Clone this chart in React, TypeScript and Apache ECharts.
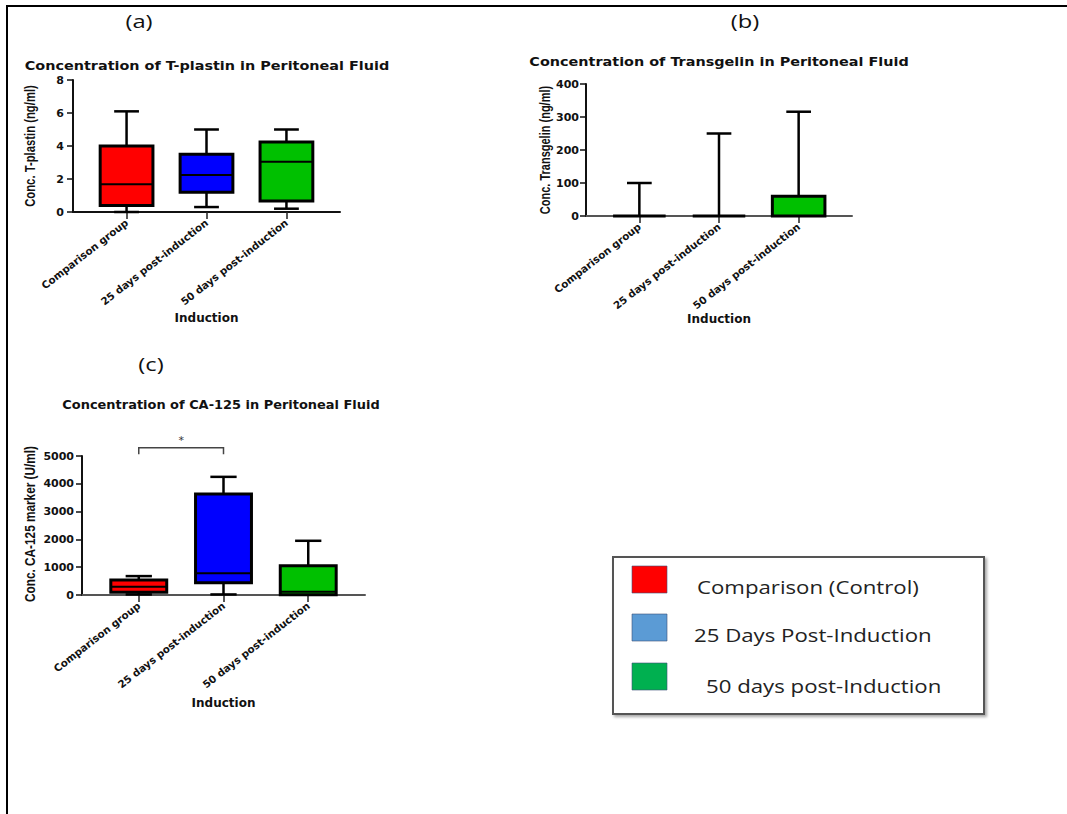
import React, { useEffect, useRef } from 'react';
import * as echarts from 'echarts';

// ---------- data ----------
const categories = ['Comparison group', '25 days post-induction', '50 days post-induction'];
const boxColors = ['#FF0000', '#0000FF', '#00C000'];

// [min, Q1, median, Q3, max]
const tplastinStats = [
  [0, 0.4, 1.68, 4.0, 6.1],
  [0.3, 1.2, 2.25, 3.5, 5.0],
  [0.2, 0.67, 3.05, 4.25, 5.0],
];
const transgelinStats = [
  [0, 0, 0, 0, 100],
  [0, 0, 0, 0, 250],
  [0, 0, 0, 60, 316],
];
const ca125Stats = [
  [20, 100, 300, 540, 680],
  [20, 440, 780, 3630, 4250],
  [0, 10, 120, 1050, 1950],
];

const panelLetters = ['(a)', '(b)', '(c)'];
const panelTitles = [
  'Concentration of T-plastin in Peritoneal Fluid',
  'Concentration of Transgelin in Peritoneal Fluid',
  'Concentration of CA-125 in Peritoneal Fluid',
];
const yNames = ['Conc. T-plastin (ng/ml)', 'Conc. Transgelin (ng/ml)', 'Conc. CA-125 marker (U/ml)'];
const xName = 'Induction';
const yMax = [8, 400, 5000];
const yStep = [2, 100, 1000];

// significance bracket in (c): between category 0 and 1
const sigPair = [0, 1];
const sigBracket = [5060, 5300]; // foot, top
const sigLabel = '*';

const legendLabels = ['Comparison (Control)', '25 Days Post-Induction', '50 days post-Induction'];
const legendColors = ['#FF0000', '#5B9BD5', '#00B050'];

// ---------- helpers ----------
const BOLD = "'DejaVu Sans', 'Liberation Sans', sans-serif";
const ARIAL = "'Liberation Sans', Arial, sans-serif";
const SANS = "'Open Sans', sans-serif";

function boxRender(params: any, api: any) {
  const idx = api.value(0);
  const v = [1, 2, 3, 4, 5].map((i) => api.value(i));
  const unit = api.size([1, 0])[0];
  const boxW = unit * 0.66;
  const capW = unit * 0.31;
  const pMin = api.coord([idx, v[0]]);
  const pQ1 = api.coord([idx, v[1]]);
  const pMed = api.coord([idx, v[2]]);
  const pQ3 = api.coord([idx, v[3]]);
  const pMax = api.coord([idx, v[4]]);
  const cx = pMed[0];
  const fill = boxColors[params.dataIndex];
  const wStyle = { stroke: '#000', lineWidth: 2.5 };
  const children: any[] = [];
  if (pMax[1] < pQ3[1] - 0.5) {
    children.push({ type: 'line', shape: { x1: cx, y1: pQ3[1], x2: cx, y2: pMax[1] }, style: wStyle });
    children.push({ type: 'line', shape: { x1: cx - capW / 2, y1: pMax[1], x2: cx + capW / 2, y2: pMax[1] }, style: wStyle });
  }
  if (pMin[1] > pQ1[1] + 0.5) {
    children.push({ type: 'line', shape: { x1: cx, y1: pQ1[1], x2: cx, y2: pMin[1] }, style: wStyle });
    children.push({ type: 'line', shape: { x1: cx - capW / 2, y1: pMin[1], x2: cx + capW / 2, y2: pMin[1] }, style: wStyle });
  }
  const h = pQ1[1] - pQ3[1];
  if (h > 1) {
    children.push({
      type: 'rect',
      shape: { x: cx - boxW / 2, y: pQ3[1], width: boxW, height: h },
      style: { fill, stroke: '#000', lineWidth: 3 },
    });
  }
  children.push({
    type: 'line',
    shape: { x1: cx - boxW / 2, y1: pMed[1], x2: cx + boxW / 2, y2: pMed[1] },
    style: { stroke: '#000', lineWidth: h > 1 ? 2 : 3 },
  });
  return { type: 'group', children };
}

function bracketRender(params: any, api: any) {
  const a0 = api.coord([api.value(0), api.value(2)]);
  const a1 = api.coord([api.value(0), api.value(3)]);
  const b1 = api.coord([api.value(1), api.value(3)]);
  const b0 = api.coord([api.value(1), api.value(2)]);
  return {
    type: 'group',
    children: [
      {
        type: 'polyline',
        shape: { points: [a0, a1, b1, b0] },
        style: { stroke: '#444', lineWidth: 1.5, fill: 'none' },
      },
      {
        type: 'text',
        x: (a1[0] + b1[0]) / 2,
        y: a1[1] - 2,
        style: { text: sigLabel, fill: '#333', fontSize: 11, fontFamily: BOLD, align: 'center', verticalAlign: 'bottom' },
      },
    ],
  };
}

const grids = [
  { left: 73, top: 80, width: 267, height: 132 },
  { left: 586, top: 84, width: 266, height: 132 },
  { left: 82, top: 456, width: 283, height: 139 },
];
const yLabelMargin = [9, 7, 8];
const xNameGap = [100, 93, 102];
const letterPos = [
  [139, 20],
  [745, 20],
  [151, 363],
];
const titlePos = [
  [207, 66],
  [719, 62],
  [221, 405],
];
const titleScale = [1.2, 1.2, 1.08];
const yNamePos = [
  [30, 146],
  [545, 150],
  [30, 524],
];
const yNameSize = [11.3, 11, 11.8];

function buildOption() {
  const xAxis = grids.map((_, i) => ({
    type: 'value',
    gridIndex: i,
    min: -0.67,
    max: 2.67,
    splitLine: { show: false },
    axisLine: { show: true, onZero: false, lineStyle: { color: i === 0 ? '#111' : '#555', width: 2 } },
    axisTick: { show: true, customValues: [0, 1, 2], length: 7, lineStyle: { color: '#222', width: 1.5 } },
    axisLabel: {
      customValues: [0, 1, 2],
      formatter: (v: number) => categories[Math.round(v)] ?? '',
      rotate: 38,
      margin: 9,
      color: '#111',
      fontFamily: BOLD,
      fontWeight: 'bold',
      fontSize: 10.3,
    },
    name: xName,
    nameLocation: 'middle',
    nameGap: xNameGap[i],
    nameTextStyle: { fontFamily: BOLD, fontWeight: 'bold', fontSize: 12, color: '#111' },
  }));
  const yAxis = grids.map((_, i) => ({
    type: 'value',
    gridIndex: i,
    min: 0,
    max: yMax[i],
    interval: yStep[i],
    splitLine: { show: false },
    axisLine: { show: true, onZero: false, lineStyle: { color: '#111', width: 2 } },
    axisTick: { show: true, length: 6, lineStyle: { color: '#111', width: 1.5 } },
    axisLabel: {
      margin: yLabelMargin[i],
      color: '#111',
      fontFamily: BOLD,
      fontWeight: 'bold',
      fontSize: 11,
      formatter: (v: number) => String(v),
    },
  }));
  const statSets = [tplastinStats, transgelinStats, ca125Stats];
  const series: any[] = statSets.map((stats, i) => ({
    type: 'custom',
    xAxisIndex: i,
    yAxisIndex: i,
    clip: false,
    renderItem: boxRender,
    encode: { x: 0, y: [1, 2, 3, 4, 5] },
    data: stats.map((s, k) => [k, ...s]),
    z: 3,
  }));
  series.push({
    type: 'custom',
    xAxisIndex: 2,
    yAxisIndex: 2,
    clip: false,
    renderItem: bracketRender,
    encode: { x: [0, 1], y: [2, 3] },
    data: [[sigPair[0], sigPair[1], sigBracket[0], sigBracket[1]]],
    silent: true,
  });

  const graphic: any[] = [
    // frame
    { type: 'line', shape: { x1: 7, y1: 6, x2: 7, y2: 814 }, style: { stroke: '#000', lineWidth: 2 } },
    { type: 'line', shape: { x1: 6, y1: 6, x2: 1067, y2: 6 }, style: { stroke: '#000', lineWidth: 2 } },
  ];
  panelLetters.forEach((t, i) => {
    graphic.push({
      type: 'text',
      x: letterPos[i][0],
      y: letterPos[i][1],
      scaleX: 1.25,
      style: { text: t, fill: '#111', fontSize: 19, fontFamily: SANS, align: 'center', verticalAlign: 'middle' },
    });
  });
  panelTitles.forEach((t, i) => {
    graphic.push({
      type: 'text',
      x: titlePos[i][0],
      y: titlePos[i][1],
      scaleX: titleScale[i],
      style: { text: t, fill: '#111', fontSize: 12, fontWeight: 'bold', fontFamily: BOLD, align: 'center', verticalAlign: 'middle' },
    });
  });
  yNames.forEach((t, i) => {
    graphic.push({
      type: 'text',
      x: yNamePos[i][0],
      y: yNamePos[i][1],
      rotation: Math.PI / 2,
      scaleY: 1.3,
      style: { text: t, fill: '#111', fontSize: yNameSize[i], fontWeight: 'bold', fontFamily: ARIAL, align: 'center', verticalAlign: 'middle' },
    });
  });
  // legend box
  graphic.push({
    type: 'rect',
    shape: { x: 613, y: 557, width: 371, height: 157 },
    style: { fill: '#fff', stroke: '#555', lineWidth: 2, shadowBlur: 3, shadowOffsetX: 2, shadowOffsetY: 2, shadowColor: 'rgba(0,0,0,0.35)' },
  });
  const swatchY = [566, 614, 663];
  const textPos = [
    [697, 587],
    [694, 635],
    [706, 686],
  ];
  legendLabels.forEach((t, i) => {
    graphic.push({
      type: 'rect',
      shape: { x: 632, y: swatchY[i], width: 35, height: 27 },
      style: { fill: legendColors[i], stroke: 'rgba(60,80,120,0.6)', lineWidth: 1 },
    });
    graphic.push({
      type: 'text',
      x: textPos[i][0],
      y: textPos[i][1],
      scaleX: 1.17,
      style: { text: t, fill: '#222', fontSize: 19, fontFamily: SANS, align: 'left', verticalAlign: 'middle' },
    });
  });

  return {
    animation: false,
    backgroundColor: '#fff',
    grid: grids,
    xAxis,
    yAxis,
    series,
    graphic,
  };
}

export default function App() {
  const ref = useRef<HTMLDivElement>(null);
  useEffect(() => {
    const chart = echarts.init(ref.current as HTMLDivElement, null, { renderer: 'svg' });
    chart.setOption(buildOption() as any);
    return () => chart.dispose();
  }, []);
  return (
    <div
      ref={ref}
      style={{ position: 'fixed', left: 0, top: 0, width: 1067, height: 814, background: '#fff' }}
    />
  );
}
